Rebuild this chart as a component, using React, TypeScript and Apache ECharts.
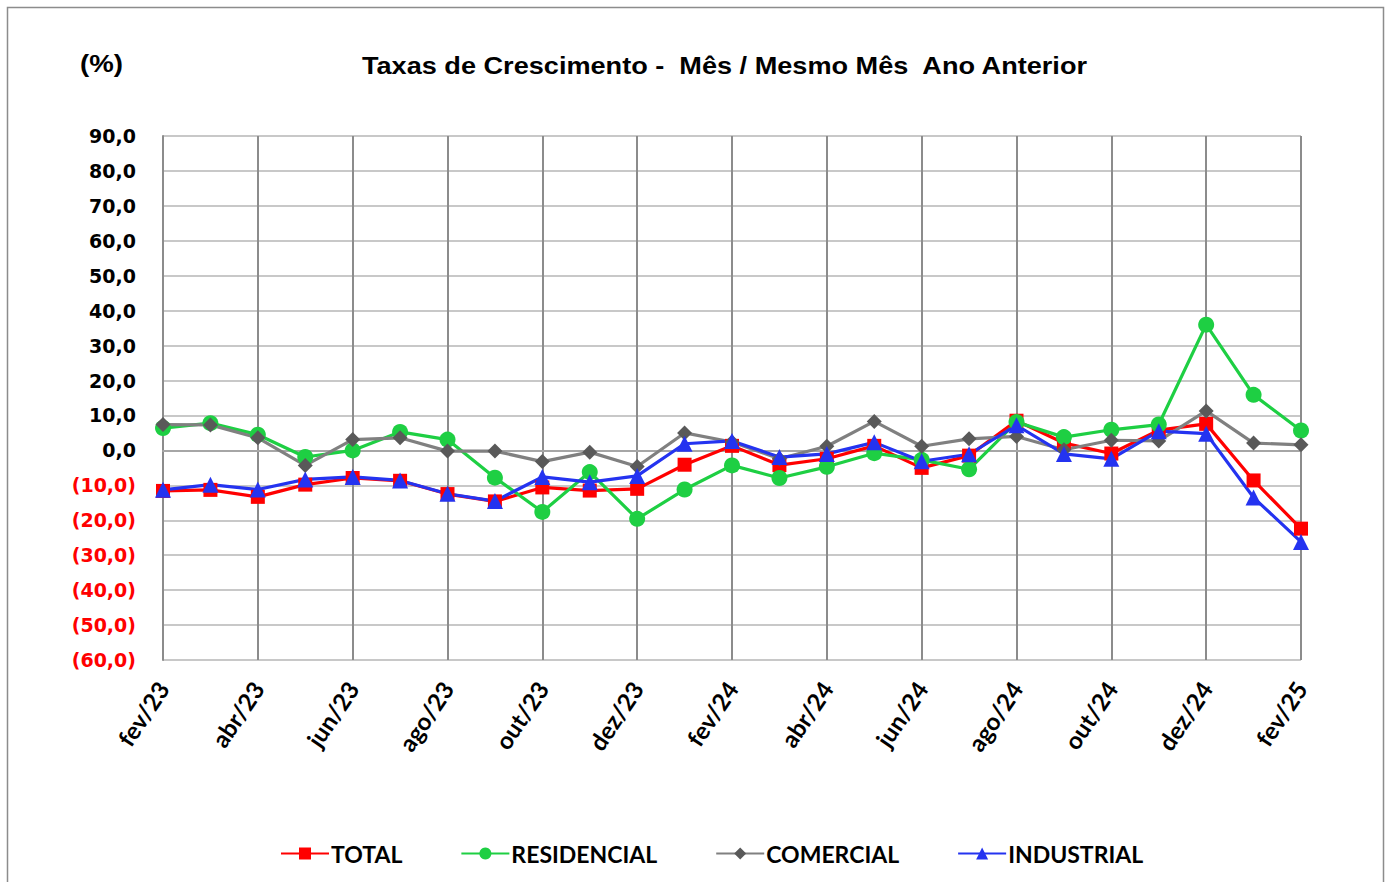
import React, { useEffect, useRef } from "react";
import * as echarts from "echarts";

const categories = [
  "fev/23", "mar/23", "abr/23", "mai/23", "jun/23", "jul/23", "ago/23", "set/23", "out/23", "nov/23", "dez/23",
  "jan/24", "fev/24", "mar/24", "abr/24", "mai/24", "jun/24", "jul/24", "ago/24", "set/24", "out/24", "nov/24", "dez/24",
  "jan/25", "fev/25",
];

const total = [-11.6, -11.3, -13.3, -9.8, -7.9, -8.7, -12.5, -14.6, -10.6, -11.5, -11.0, -4.1, 1.3, -4.2, -2.4, 1.3, -5.0, -1.5, 8.5, 2.1, -0.9, 5.8, 7.6, -8.6, -22.4];
const residencial = [6.4, 7.8, 4.5, -1.9, 0.0, 5.3, 3.1, -7.8, -17.6, -6.2, -19.6, -11.2, -4.3, -7.9, -4.7, -0.8, -2.7, -5.4, 8.1, 3.8, 5.9, 7.4, 36.0, 15.9, 5.7];
const comercial = [7.4, 7.3, 3.6, -4.3, 3.1, 3.6, -0.2, -0.2, -3.2, -0.5, -4.6, 5.0, 2.4, -2.4, 1.2, 8.3, 1.2, 3.3, 4.0, 0.2, 2.9, 2.7, 11.3, 2.1, 1.6];
const industrial = [-11.3, -9.8, -11.2, -8.3, -7.6, -8.6, -12.4, -14.5, -7.6, -9.1, -7.3, 1.9, 2.7, -1.9, -1.0, 2.3, -3.1, -1.1, 7.2, -1.0, -2.4, 5.5, 4.8, -13.5, -26.2];

const yMin = -60;
const yMax = 90;
const yInterval = 10;

const titleText = "Taxas de Crescimento -  Mês / Mesmo Mês  Ano Anterior";
const unitText = "(%)";

export default function App() {
  const ref = useRef<HTMLDivElement>(null);
  useEffect(() => {
    if (!ref.current) return;
    const chart = echarts.init(ref.current, null, { renderer: "svg" });
    const fmt = (v: number) => {
      const s = Math.abs(v).toFixed(1).replace(".", ",");
      return v < 0 ? "(" + s + ")" : s;
    };
    const mk = (name: string, data: number[], color: string, symbol: string, size: number, lineColor?: string) => ({
      name,
      type: "line",
      data,
      symbol,
      symbolSize: size,
      lineStyle: { color: lineColor || color, width: 3.2 },
      itemStyle: { color },
      z: 3,
    });
    chart.setOption({
      animation: false,
      backgroundColor: "#fff",
      textStyle: { fontFamily: "Liberation Sans" },
      graphic: [
        { type: "rect", shape: { x: 7.5, y: 7.5, width: 1376, height: 900 }, style: { fill: "none", stroke: "#8c8c8c", lineWidth: 1.5 }, z: -10 },
        { type: "text", x: 80, y: 64, scaleX: 1.15, style: { text: unitText, font: "bold 24px 'Liberation Sans'", fill: "#000", align: "left", verticalAlign: "middle" } },
        { type: "text", x: 362, y: 66, scaleX: 1.13, style: { text: titleText, font: "bold 24px 'Liberation Sans'", fill: "#000", align: "left", verticalAlign: "middle" } },
      ],
      grid: { left: 163, right: 90, top: 136, bottom: 222, containLabel: false },
      legend: {
        bottom: 12,
        left: 275,
        itemGap: 58,
        itemWidth: 48,
        itemHeight: 15,
        textStyle: { fontFamily: "Lato", fontWeight: "bold", fontSize: 23, color: "#000", padding: [0, 0, 0, -3] },
        data: ["TOTAL", "RESIDENCIAL", "COMERCIAL", "INDUSTRIAL"],
      },
      xAxis: {
        type: "category",
        data: categories,
        boundaryGap: false,
        axisLine: { show: true, lineStyle: { color: "#a6a6a6", width: 2 } },
        axisTick: { show: false },
        axisLabel: {
          interval: 1,
          rotate: 56,
          margin: 24,
          fontFamily: "Lato",
          fontWeight: "bold",
          fontSize: 24,
          color: "#000",
        },
        splitLine: { show: true, interval: 1, lineStyle: { color: "#8c8c8c", width: 2 } },
      },
      yAxis: {
        type: "value",
        min: yMin,
        max: yMax,
        interval: yInterval,
        axisLine: { show: true, lineStyle: { color: "#8c8c8c", width: 2 } },
        axisTick: { show: false },
        axisLabel: {
          margin: 27,
          fontFamily: "DejaVu Sans",
          fontWeight: "bold",
          fontSize: 19,
          formatter: (v: number) => fmt(v),
          color: (v: any) => (Number(v) < 0 ? "#ff0000" : "#000000"),
        },
        splitLine: { show: true, lineStyle: { color: "#c8c8c8", width: 2 } },
      },
      series: [
        mk("TOTAL", total, "#ff0000", "rect", 14),
        mk("RESIDENCIAL", residencial, "#1ecf43", "circle", 16),
        mk("COMERCIAL", comercial, "#595959", "diamond", 15, "#808080"),
        mk("INDUSTRIAL", industrial, "#2433f0", "triangle", 16),
      ],
    });
    return () => chart.dispose();
  }, []);
  return <div ref={ref} style={{ position: "fixed", left: 0, top: 0, width: 1391, height: 882 }} />;
}
